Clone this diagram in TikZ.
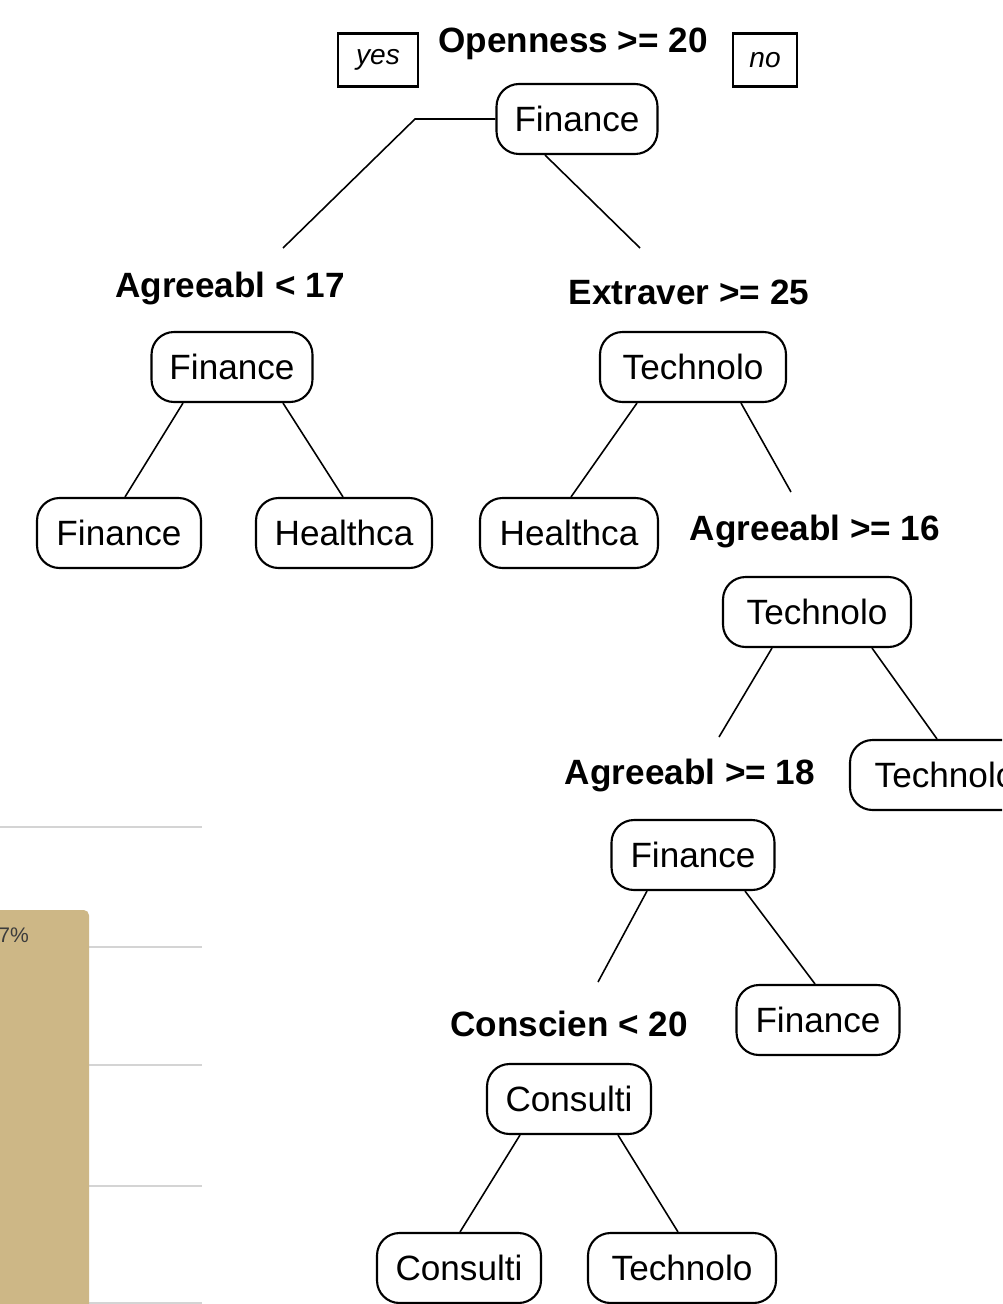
\documentclass[tikz,border=0pt]{standalone}
\usepackage{fontspec}
\setmainfont{Liberation Sans}
\usetikzlibrary{calc}
\definecolor{bartan}{RGB}{205,183,134}
\definecolor{gridgray}{RGB}{212,212,212}
\definecolor{pcttext}{RGB}{60,60,60}
\tikzset{
  leaf/.style={draw, line width=1.2pt, rounded corners=0.45cm, minimum height=1.4cm, inner sep=0pt, font=\fontsize{20}{24}\selectfont},
  split/.style={font=\bfseries\fontsize{20}{24}\selectfont, inner sep=0pt},
  edge/.style={line width=0.9pt},
  tag/.style={draw, line width=1.2pt, minimum height=1.06cm, inner sep=0pt, font=\itshape\fontsize{16}{18}\selectfont},
  gridline/.style={gridgray, line width=1.2pt}
}
\begin{document}
\begin{tikzpicture}[x=0.02cm,y=-0.02cm]
\useasboundingbox (0,0) rectangle (1002,1304);
\clip (0,0) rectangle (1002,1304);
\fill[white] (0,0) rectangle (1002,1304);
% background chart fragment
\foreach \yy in {827,947,1065,1186,1303} \draw[gridline] (0,\yy) -- (202,\yy);
\fill[bartan, rounded corners=3pt] (-10,1330) -- (-10,910) -- (89,910) -- (89,1330) -- cycle;
\node[anchor=west, inner sep=0pt, font=\fontsize{12}{14}\selectfont, text=pcttext] (pct) at (-2,935) {7\%};

% tags
\node[tag, minimum width=1.6cm] (yes) at (378,60) {yes};
\node[tag, minimum width=1.28cm] (no) at (765,60) {no};

% split labels
\node[split] (l1) at (573,44) {Openness >= 20};
\node[split] (l2) at (230,288) {Agreeabl < 17};
\node[split] (l3) at (689,292) {Extraver >= 25};
\node[split] (l4) at (815,531) {Agreeabl >= 16};
\node[split] (l5) at (690,775) {Agreeabl >= 18};
\node[split] (l6) at (569,1024) {Conscien < 20};

% nodes
\node[leaf, minimum width=3.22cm] (n1) at (577,119) {Finance};
\node[leaf, minimum width=3.22cm] (n2) at (232,367) {Finance};
\node[leaf, minimum width=3.28cm] (n3) at (119,533) {Finance};
\node[leaf, minimum width=3.52cm] (n4) at (344,533) {Healthca};
\node[leaf, minimum width=3.72cm] (n5) at (693,367) {Technolo};
\node[leaf, minimum width=3.56cm] (n6) at (569,533) {Healthca};
\node[leaf, minimum width=3.76cm] (n7) at (817,612) {Technolo};
\node[leaf, minimum width=3.8cm] (n8) at (945,775) {Technolo};
\node[leaf, minimum width=3.26cm] (n9) at (693,855) {Finance};
\node[leaf, minimum width=3.26cm] (n10) at (818,1020) {Finance};
\node[leaf, minimum width=3.28cm] (n11) at (569,1099) {Consulti};
\node[leaf, minimum width=3.28cm] (n12) at (459,1268) {Consulti};
\node[leaf, minimum width=3.76cm] (n13) at (682,1268) {Technolo};

% free ends
\coordinate (k1) at (415,119);
\coordinate (e1) at (283,248);
\coordinate (e2) at (640,248);
\coordinate (e3) at (791,492);
\coordinate (e4) at (719,737);
\coordinate (e5) at (598,982);

% connectors
\draw[edge] (n1.west) -- (k1) -- (e1);
\draw[edge] ($(n1.south)+(-32,0)$) -- (e2);
\draw[edge] ($(n2.south)+(-49,0)$) -- ($(n3.north)+(6,0)$);
\draw[edge] ($(n2.south)+(51,0)$) -- ($(n4.north)+(-1,0)$);
\draw[edge] ($(n5.south)+(-56,0)$) -- ($(n6.north)+(2,0)$);
\draw[edge] ($(n5.south)+(48,0)$) -- (e3);
\draw[edge] ($(n7.south)+(-45,0)$) -- (e4);
\draw[edge] ($(n7.south)+(55,0)$) -- ($(n8.north)+(-8,0)$);
\draw[edge] ($(n9.south)+(-46,0)$) -- (e5);
\draw[edge] ($(n9.south)+(52,0)$) -- ($(n10.north)+(-3,0)$);
\draw[edge] ($(n11.south)+(-49,0)$) -- ($(n12.north)+(1,0)$);
\draw[edge] ($(n11.south)+(49,0)$) -- ($(n13.north)+(-4,0)$);
\end{tikzpicture}
\end{document}
